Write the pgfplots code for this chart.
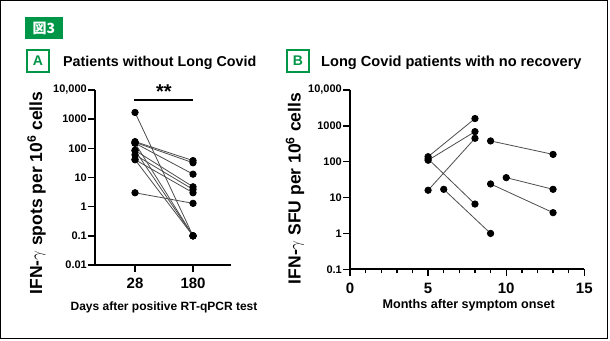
\documentclass[border=0pt]{standalone}
\usepackage{pgfplots}
\pgfplotsset{compat=1.18}
\usepackage{fontspec}
\setmainfont{Liberation Sans}
\newfontfamily\cjk{Noto Sans CJK JP}
\definecolor{grn}{RGB}{0,150,72}
\newcommand{\fs}[1]{\fontsize{#1bp}{#1bp}\selectfont}
\pgfplotsset{
  pairline/.style={color=black!70, line width=0.8bp, mark=*, mark size=3.2bp,
     mark options={fill=black, draw=black, solid}},
  mybase/.style={
    scale only axis, axis lines=left,
    axis line style={line width=1.7bp, -, black},
    tick style={line width=1.4bp, black},
    tick align=outside, major tick length=7bp, minor tick length=4bp,
    yminorticks=false,
    /pgf/number format/assume math mode=true,
    yticklabel style={font=\bfseries\fs{11}, inner xsep=1bp},
    xticklabel style={font=\bfseries\fs{15}, yshift=-3bp},
    clip=false,
  }
}
\begin{document}
\begin{tikzpicture}[x=1bp,y=1bp]
\useasboundingbox (0,0) rectangle (610,340);
\draw[line width=1.2bp] (0.8,1.6) rectangle (607.4,339.3);
% figure tag
\fill[grn] (25,301) rectangle (63,323);
\node[text=white, font=\cjk\bfseries\fs{14}] at (44,312) {図3};
% panel letters
\draw[grn, line width=1.8bp, fill=white] (27,268) rectangle (49,290);
\node[text=grn, font=\bfseries\fs{14}] at (38,279) {A};
\draw[grn, line width=1.8bp, fill=white] (287,268) rectangle (309,290);
\node[text=grn, font=\bfseries\fs{14}] at (298,279) {B};
% titles
\node[anchor=base west, font=\bfseries\fs{14.3}, inner sep=0] at (63,273.5) {Patients without Long Covid};
\node[anchor=base west, font=\bfseries\fs{14.6}, inner sep=0] at (321,273.5) {Long Covid patients with no recovery};
% y labels
\node[rotate=90, anchor=base, font=\bfseries\fs{17.5}, inner sep=0] at (42,147) {IFN-$\gamma$ spots per 10\textsuperscript{6} cells};
\node[rotate=90, anchor=base, font=\bfseries\fs{17.5}, inner sep=0] at (300.5,151.5) {IFN-$\gamma$ SFU per 10\textsuperscript{6} cells};
% x labels
\node[anchor=base, font=\bfseries\fs{12}, inner sep=0] at (164,30) {Days after positive RT-qPCR test};
\node[anchor=base, font=\bfseries\fs{12.6}, inner sep=0] at (468.7,32) {Months after symptom onset};
% significance
\draw[line width=1.6bp] (134,240) -- (193,240);
\node[font=\bfseries\fs{20}] at (164,248) {**};

\begin{axis}[mybase, ymode=log, at={(95bp,75bp)}, anchor=south west,
  width=136bp, height=175bp,
  xmin=-0.69, xmax=1.655, ymin=0.01, ymax=10000,
  xtick={0,1}, xticklabels={28,180},
  ytick={0.01,0.1,1,10,100,1000,10000},
  yticklabels={0.01,0.1,1,10,100,1000,{10,000}},
]
\addplot[pairline] coordinates {(0,1700) (1,0.1)};
\addplot[pairline] coordinates {(0,170) (1,38)};
\addplot[pairline] coordinates {(0,160) (1,32)};
\addplot[pairline] coordinates {(0,150) (1,13)};
\addplot[pairline] coordinates {(0,150) (1,0.1)};
\addplot[pairline] coordinates {(0,85) (1,4.8)};
\addplot[pairline] coordinates {(0,85) (1,0.1)};
\addplot[pairline] coordinates {(0,60) (1,3.9)};
\addplot[pairline] coordinates {(0,41) (1,3.0)};
\addplot[pairline] coordinates {(0,41) (1,0.1)};
\addplot[pairline] coordinates {(0,3) (1,1.3)};
\end{axis}

\begin{axis}[mybase, ymode=log, at={(350bp,70.7bp)}, anchor=south west,
  width=234.3bp, height=179.3bp,
  xmin=0, xmax=15, ymin=0.1, ymax=10000,
  xtick={0,5,10,15}, minor xtick={1,2,3,4,6,7,8,9,11,12,13,14},
  ytick={0.1,1,10,100,1000,10000},
  yticklabels={0.1,1,10,100,1000,{10,000}},
]
\addplot[pairline] coordinates {(5,138) (8,1600)};
\addplot[pairline] coordinates {(5,110) (8,690)};
\addplot[pairline] coordinates {(5,120) (8,6.6)};
\addplot[pairline] coordinates {(5,16) (8,450)};
\addplot[pairline] coordinates {(6,17) (9,1)};
\addplot[pairline] coordinates {(9,380) (13,160)};
\addplot[pairline] coordinates {(10,36) (13,17)};
\addplot[pairline] coordinates {(9,24) (13,3.8)};
\end{axis}
\end{tikzpicture}
\end{document}
